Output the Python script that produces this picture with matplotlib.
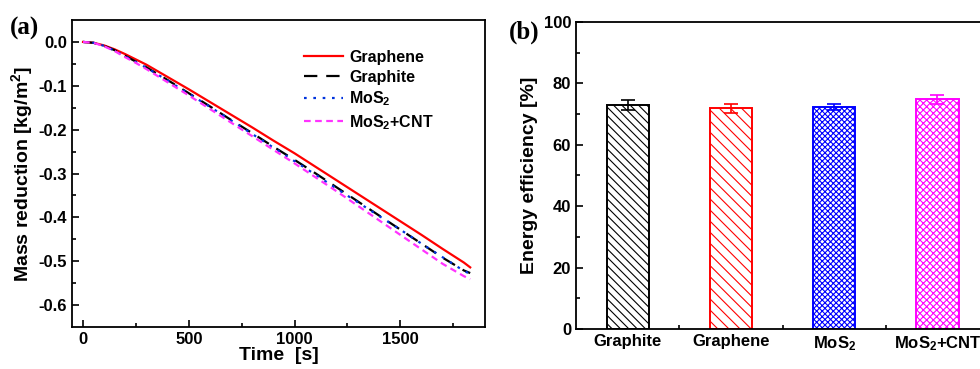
import matplotlib
matplotlib.use("Agg")
import matplotlib.pyplot as plt
from matplotlib.ticker import MultipleLocator, FixedLocator

# ---- data ----
time_s = [0, 50, 100, 150, 200, 250, 300, 400, 500, 600, 700, 800, 900, 1000,
          1100, 1200, 1300, 1400, 1500, 1600, 1700, 1800, 1830]
graphene = [0, -0.002, -0.008, -0.017, -0.028, -0.040, -0.052, -0.080, -0.108,
            -0.137, -0.166, -0.195, -0.225, -0.254, -0.285, -0.316, -0.347,
            -0.378, -0.409, -0.440, -0.472, -0.503, -0.514]
graphite = [0, -0.002, -0.009, -0.019, -0.032, -0.045, -0.058, -0.087, -0.117,
            -0.147, -0.178, -0.208, -0.239, -0.269, -0.300, -0.332, -0.364,
            -0.396, -0.428, -0.460, -0.492, -0.521, -0.527]
mos2 = [0, -0.002, -0.009, -0.020, -0.033, -0.046, -0.059, -0.088, -0.118,
        -0.148, -0.179, -0.210, -0.241, -0.272, -0.303, -0.335, -0.366,
        -0.397, -0.428, -0.460, -0.491, -0.522, -0.529]
mos2_cnt = [0, -0.002, -0.010, -0.021, -0.035, -0.048, -0.062, -0.092, -0.122,
            -0.153, -0.184, -0.215, -0.246, -0.277, -0.309, -0.341, -0.374,
            -0.407, -0.440, -0.473, -0.506, -0.534, -0.541]

bar_labels = ["Graphite", "Graphene", "MoS$_2$", "MoS$_2$+CNT"]
efficiency = [73.0, 71.9, 72.4, 74.8]
efficiency_err = [1.6, 1.4, 1.0, 1.4]

bar_colors = ["#000000", "#ff0000", "#0000ff", "#ff00ff"]
bar_hatches = ["\\\\\\\\", "\\\\\\", "xxxxxx", "xxxxx"]

plt.rcParams['font.family'] = ['Liberation Sans', 'DejaVu Sans']
plt.rcParams['font.weight'] = 'bold'
plt.rcParams['mathtext.default'] = 'regular'
plt.rcParams['hatch.linewidth'] = 0.8

fig = plt.figure(figsize=(9.8, 3.69), dpi=100)

# ---- panel (a) ----
ax1 = fig.add_axes([0.0735, 0.1138, 0.4214, 0.832])
ax1.plot(time_s, graphene, color="#ff0000", lw=1.6, ls="-", label="Graphene")
ax1.plot(time_s, graphite, color="#000000", lw=1.6, ls=(0, (6, 4)), label="Graphite")
ax1.plot(time_s, mos2, color="#0033dd", lw=1.6, ls=(0, (1.2, 3)), label="MoS$_2$")
ax1.plot(time_s, mos2_cnt, color="#ff33ff", lw=1.6, ls=(0, (3, 2)), label="MoS$_2$+CNT")
ax1.set_xlim(-52, 1900)
ax1.set_ylim(-0.65, 0.05)
ax1.xaxis.set_major_locator(FixedLocator([0, 500, 1000, 1500]))
ax1.xaxis.set_minor_locator(FixedLocator([250, 750, 1250, 1750]))
ax1.yaxis.set_major_locator(FixedLocator([0.0, -0.1, -0.2, -0.3, -0.4, -0.5, -0.6]))
ax1.yaxis.set_minor_locator(FixedLocator([-0.05, -0.15, -0.25, -0.35, -0.45, -0.55]))
ax1.set_yticklabels(["0.0", "-0.1", "-0.2", "-0.3", "-0.4", "-0.5", "-0.6"])
ax1.set_xlabel("Time  [s]", fontsize=14, fontweight='bold', labelpad=0)
ax1.set_ylabel("Mass reduction [kg/m$^2$]", fontsize=14, fontweight='bold', labelpad=3)
leg = ax1.legend(loc="upper right", frameon=False, fontsize=11.5, handlelength=2.4,
                 labelspacing=0.3, bbox_to_anchor=(0.91, 0.95), handletextpad=0.4)
for t in leg.get_texts():
    t.set_fontweight('bold')

# ---- panel (b) ----
ax2 = fig.add_axes([0.5878, 0.1084, 0.4214, 0.832])
x = list(range(len(bar_labels)))
for i in x:
    ax2.bar(i, efficiency[i], width=0.41, facecolor="white", edgecolor=bar_colors[i],
            hatch=bar_hatches[i], linewidth=1.4, zorder=2)
    ax2.errorbar(i, efficiency[i], yerr=efficiency_err[i], color=bar_colors[i],
                 capsize=5, elinewidth=1.2, capthick=1.2, zorder=3)
ax2.set_xlim(-0.5, 3.5)
ax2.set_ylim(0, 100)
ax2.set_xticks(x)
ax2.set_xticklabels(bar_labels, fontsize=12, fontweight='bold')
ax2.xaxis.set_minor_locator(FixedLocator([0.5, 1.5, 2.5]))
ax2.yaxis.set_major_locator(MultipleLocator(20))
ax2.yaxis.set_minor_locator(MultipleLocator(10))
ax2.set_ylabel("Energy efficiency [%]", fontsize=14, fontweight='bold', labelpad=4)

for ax in (ax1, ax2):
    for s in ax.spines.values():
        s.set_linewidth(1.3)
    ax.tick_params(which='both', direction='in', width=1.2)
    ax.tick_params(which='major', length=5, labelsize=12)
    ax.tick_params(which='minor', length=3)
    for lab in ax.get_xticklabels() + ax.get_yticklabels():
        lab.set_fontweight('bold')

fig.text(0.010, 0.905, "(a)", fontsize=18, fontweight='bold', family='Liberation Serif')
fig.text(0.519, 0.895, "(b)", fontsize=18, fontweight='bold', family='Liberation Serif')

fig.savefig("out.png", dpi=100)
